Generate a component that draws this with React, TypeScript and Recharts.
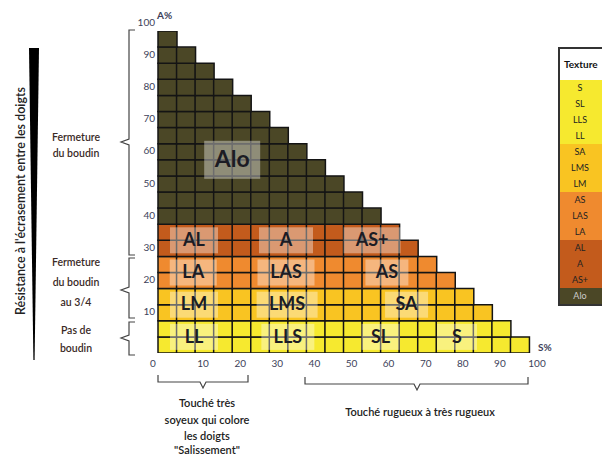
import React from 'react';
import { ComposedChart, Bar, Scatter, XAxis, YAxis } from 'recharts';

// columns of the grid (S% lower bound) and the highest A% reached in each column
const SAND_FROM = [0, 5, 10, 15, 20, 25, 30, 35, 40, 45, 50, 55, 60, 65, 70, 75, 80, 85, 90, 95];
const CLAY_MAX = [100, 95, 90, 85, 80, 75, 70, 65, 60, 55, 50, 45, 40, 35, 30, 25, 20, 15, 10, 5];
// rows of the grid (A% lower bound), each 5% high
const CLAY_ROWS = [0, 5, 10, 15, 20, 25, 30, 35, 40, 45, 50, 55, 60, 65, 70, 75, 80, 85, 90, 95];

// colour bands by A%
const BAND_TOPS = [10, 20, 30, 40, 100];
const BAND_COLORS = ['#f6e92f', '#f9c422', '#ef8a2f', '#c35b1c', '#4b4726'];

// legend table
const TEXTURE_NAMES = ['S', 'SL', 'LLS', 'LL', 'SA', 'LMS', 'LM', 'AS', 'LAS', 'LA', 'AL', 'A', 'AS+', 'Alo'];
const TEXTURE_BAND = [0, 0, 0, 0, 1, 1, 1, 2, 2, 2, 3, 3, 3, 4];

// class labels placed in the triangle (S%, A%)
const LABEL_NAMES = ['Alo', 'AL', 'A', 'AS+', 'LA', 'LAS', 'AS', 'LM', 'LMS', 'SA', 'LL', 'LLS', 'SL', 'S'];
const LABEL_SAND = [20, 9.7, 34.5, 57.7, 9.5, 34.5, 61.7, 9.7, 34.8, 67, 9.7, 35, 60, 80.6];
const LABEL_CLAY = [60, 35, 35, 35, 25, 25, 25, 15, 15, 15, 5, 5, 5, 5];

const X_TICKS = [0, 10, 20, 30, 40, 50, 60, 70, 80, 90, 100];
const Y_TICKS = [10, 20, 30, 40, 50, 60, 70, 80, 90, 100];

const BOX_W: { [k: string]: number } = {
  Alo: 56, AL: 48, A: 54, 'AS+': 57, LA: 47, LAS: 57, AS: 43, LM: 48, LMS: 61, SA: 43, LL: 48, LLS: 53, SL: 38, S: 40,
};

const FONT = 'Lato, "Open Sans", sans-serif';
const TICK_COLOR = '#3d3f5a';
const NOTE_COLOR = '#3a2a26';

const bandColor = (clay: number) => BAND_COLORS[BAND_TOPS.findIndex(t => clay < t)];

const chartData = SAND_FROM.map((s, i) => {
  const row: { [k: string]: number } = { sand: s };
  CLAY_ROWS.forEach((c, j) => {
    row['r' + j] = c + 5 <= CLAY_MAX[i] ? 5 : 0;
  });
  return row;
});

const labelData = LABEL_NAMES.map((n, i) => ({ name: n, sand: LABEL_SAND[i], clay: LABEL_CLAY[i] }));

const LabelBox = (props: any) => {
  const { cx, cy, payload } = props;
  const big = payload.name === 'Alo';
  const w = BOX_W[payload.name] || 48;
  const h = big ? 38 : 26;
  return (
    <g>
      <rect x={cx - w / 2} y={cy - h / 2} width={w} height={h} fill="#ffffff" fillOpacity={0.38} />
      <text
        x={cx}
        y={cy + 1}
        textAnchor="middle"
        dominantBaseline="middle"
        fontFamily={FONT}
        fontWeight={700}
        fontSize={big ? 23 : 18}
        fill="#1c1c24"
      >
        {payload.name}
      </text>
    </g>
  );
};

const XTick = (props: any) => {
  const { x, y, payload } = props;
  const shift = payload.value === 0 ? -5 : 8;
  return (
    <text x={x + shift} y={y + 2} textAnchor="middle" dominantBaseline="middle" fontFamily={FONT} fontSize={10} fill={TICK_COLOR}>
      {payload.value}
    </text>
  );
};

const YTick = (props: any) => {
  const { x, y, payload } = props;
  return (
    <text x={x} y={y - 8} textAnchor="end" dominantBaseline="middle" fontFamily={FONT} fontSize={10} fill={TICK_COLOR}>
      {payload.value}
    </text>
  );
};

// left curly brace: vertical at x, tip pointing left at ym
const leftBrace = (y1: number, y2: number, ym: number) =>
  `M135 ${y1} L129 ${y1} L129 ${ym - 3} L121 ${ym} L129 ${ym + 3} L129 ${y2} L135 ${y2}`;
// bottom brace: tip pointing down at xm
const bottomBrace = (x1: number, x2: number, y: number, xm: number) =>
  `M${x1} ${y - 7} L${x1} ${y} L${xm - 3} ${y} L${xm} ${y + 6} L${xm + 3} ${y} L${x2} ${y} L${x2} ${y - 7}`;

const Notes = () => (
  <svg width={602} height={455} style={{ position: 'absolute', left: 0, top: 0, pointerEvents: 'none' }}>
    <text
      transform="translate(22,201) rotate(-90)"
      textAnchor="middle"
      dominantBaseline="middle"
      fontFamily={FONT}
      fontSize={12.5}
      fontWeight={600}
      fill="#222"
    >
      Résistance à l'écrasement entre les doigts
    </text>
    <polygon points="29,48 39,48 34.6,360 33.4,360" fill="#000" />

    <g fill="none" stroke="#444" strokeWidth={1.2}>
      <path d={leftBrace(30, 255, 142)} />
      <path d={leftBrace(258, 318, 290)} />
      <path d={leftBrace(322, 355, 338)} />
      <path d={bottomBrace(158, 248, 382, 203)} />
      <path d={bottomBrace(305, 528, 384, 417)} />
    </g>

    <g fontFamily={FONT} fontSize={10.5} fontWeight={600} fill={NOTE_COLOR} textAnchor="middle">
      <text x={76} y={141}>Fermeture</text>
      <text x={76} y={157}>du boudin</text>
      <text x={76} y={266}>Fermeture</text>
      <text x={76} y={286}>du boudin</text>
      <text x={76} y={306}>au 3/4</text>
      <text x={76} y={334}>Pas de</text>
      <text x={76} y={352}>boudin</text>
    </g>

    <g fontFamily={FONT} fontSize={11} fontWeight={600} fill="#222" textAnchor="middle">
      <text x={207} y={407}>Touché très</text>
      <text x={207} y={424}>soyeux qui colore</text>
      <text x={207} y={440}>les doigts</text>
      <text x={207} y={454}>"Salissement"</text>
      <text x={420} y={416}>Touché rugueux à très rugueux</text>
    </g>

    <g fontFamily={FONT} fontSize={10} fontWeight={700} fill={TICK_COLOR}>
      <text x={157} y={19}>A%</text>
      <text x={538} y={351}>S%</text>
    </g>
  </svg>
);

const TextureTable = () => (
  <div
    style={{
      position: 'absolute',
      left: 558,
      top: 47,
      width: 52,
      border: '2px solid #333',
      fontFamily: FONT,
      background: '#fff',
    }}
  >
    <div style={{ height: 31, lineHeight: '31px', fontSize: 10, fontWeight: 700, paddingLeft: 4, color: '#111', whiteSpace: 'nowrap' }}>
      Texture
    </div>
    {TEXTURE_NAMES.map((n, i) => (
      <div
        key={n}
        style={{
          height: 16,
          lineHeight: '16px',
          fontSize: 9,
          textAlign: 'center',
          paddingRight: 12,
          background: BAND_COLORS[TEXTURE_BAND[i]],
          color: TEXTURE_BAND[i] === 4 ? '#ccc' : '#222',
        }}
      >
        {n}
      </div>
    ))}
  </div>
);

export default function App() {
  return (
    <div style={{ position: 'absolute', left: 0, top: 0, width: 602, height: 455, overflow: 'hidden', background: '#fff' }}>
      <ComposedChart
        width={602}
        height={455}
        data={chartData}
        margin={{ top: 31, right: 73, bottom: 82, left: 128 }}
        barCategoryGap={0}
        barGap={0}
      >
        <XAxis xAxisId="cat" dataKey="sand" type="category" orientation="top" hide />
        <XAxis
          xAxisId="s"
          dataKey="sand"
          type="number"
          domain={[0, 100]}
          ticks={X_TICKS}
          allowDataOverflow
          axisLine={false}
          tickLine={false}
          tickSize={0}
          tickMargin={9}
          height={20}
          tick={<XTick />}
        />
        <YAxis
          yAxisId="clay"
          type="number"
          domain={[0, 100]}
          ticks={Y_TICKS}
          allowDataOverflow
          axisLine={false}
          tickLine={false}
          tickSize={0}
          tickMargin={3}
          width={30}
          tick={<YTick />}
        />
        {CLAY_ROWS.map((c, j) => (
          <Bar
            key={c}
            dataKey={'r' + j}
            stackId="cells"
            xAxisId="cat"
            yAxisId="clay"
            fill={bandColor(c)}
            stroke="#141414"
            strokeWidth={1.5}
            isAnimationActive={false}
          />
        ))}
        <Scatter
          data={labelData}
          dataKey="clay"
          xAxisId="s"
          yAxisId="clay"
          shape={<LabelBox />}
          isAnimationActive={false}
        />
      </ComposedChart>
      <Notes />
      <TextureTable />
    </div>
  );
}
